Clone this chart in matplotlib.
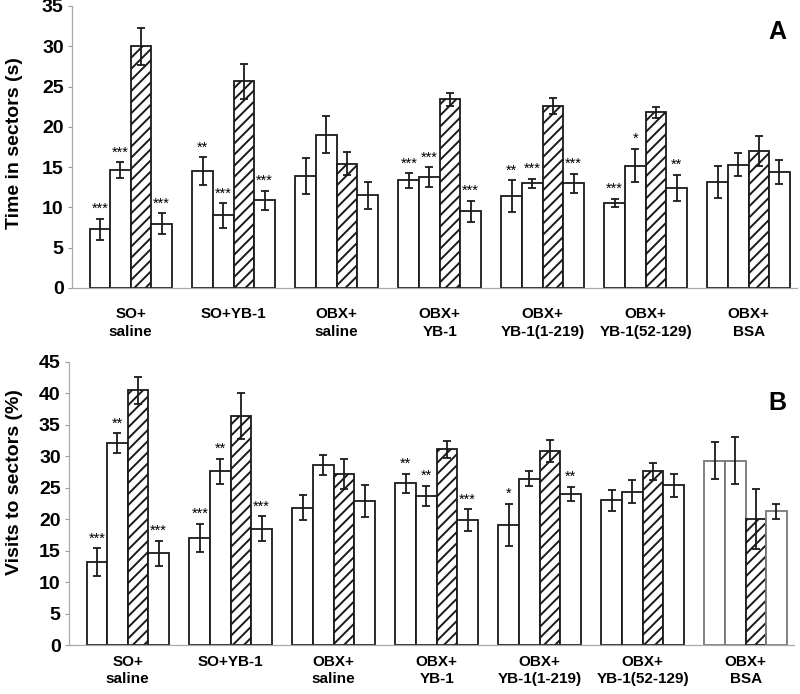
import matplotlib
matplotlib.use("Agg")
import matplotlib.pyplot as plt
import matplotlib.transforms as mtransforms
import numpy as np

plt.rcParams['font.family'] = ['Liberation Sans', 'DejaVu Sans']
plt.rcParams['hatch.linewidth'] = 1.4

groups = ["SO+\nsaline", "SO+YB-1", "OBX+\nsaline", "OBX+\nYB-1",
          "OBX+\nYB-1(1-219)", "OBX+\nYB-1(52-129)", "OBX+\nBSA"]

# Panel A: time in sectors (s), 4 sectors per group (3rd = hatched)
time_s1 = [7.3, 14.5, 13.9, 13.35, 11.4, 10.6, 13.2]
time_s2 = [14.6, 9.0, 19.0, 13.75, 13.0, 15.2, 15.3]
time_s3 = [30.0, 25.65, 15.45, 23.4, 22.6, 21.8, 17.05]
time_s4 = [8.0, 10.9, 11.5, 9.55, 13.0, 12.4, 14.4]
time_e1 = [1.3, 1.7, 2.2, 0.9, 1.95, 0.5, 2.0]
time_e2 = [1.0, 1.5, 2.3, 1.25, 0.55, 2.1, 1.45]
time_e3 = [2.3, 2.2, 1.45, 0.8, 1.0, 0.7, 1.85]
time_e4 = [1.3, 1.2, 1.7, 1.3, 1.15, 1.65, 1.5]
time_sig = [["***", "***", "", "***"],
            ["**", "***", "", "***"],
            ["", "", "", ""],
            ["***", "***", "", "***"],
            ["**", "***", "", "***"],
            ["***", "*", "", "**"],
            ["", "", "", ""]]

# Panel B: visits to sectors (%)
vis_s1 = [13.2, 17.05, 21.8, 25.7, 19.1, 23.0, 29.3]
vis_s2 = [32.1, 27.6, 28.6, 23.7, 26.45, 24.4, 29.3]
vis_s3 = [40.5, 36.4, 27.25, 31.1, 30.8, 27.6, 20.0]
vis_s4 = [14.6, 18.5, 22.85, 19.8, 24.0, 25.4, 21.25]
vis_e1 = [2.2, 2.2, 2.0, 1.55, 3.35, 1.7, 2.9]
vis_e2 = [1.6, 2.0, 1.6, 1.6, 1.15, 1.85, 3.7]
vis_e3 = [2.1, 3.7, 2.4, 1.3, 1.75, 1.4, 4.8]
vis_e4 = [2.0, 1.95, 2.55, 1.75, 1.15, 1.85, 1.25]
vis_sig = [["***", "**", "", "***"],
           ["***", "**", "", "***"],
           ["", "", "", ""],
           ["**", "**", "", "***"],
           ["*", "", "", "**"],
           ["", "", "", ""],
           ["", "", "", ""]]

fig = plt.figure(figsize=(8, 6.94), dpi=100)
W, H = 800, 694


def panel(rect, series, errs, sig, ymax, ystep, ylabel, ylabel_y, letter, letter_y,
          label_pad, light_last=False):
    ax = fig.add_axes(rect)
    x = np.arange(len(groups))
    bw = 0.2
    for k in range(4):
        xs = x + (k - 1.5) * bw
        ecs = ['#1a1a1a'] * len(groups)
        if light_last:
            ecs[-1] = '#777777' if k != 2 else '#1a1a1a'
        ax.bar(xs, series[k], width=bw, facecolor='white', edgecolor=ecs,
               linewidth=1.3, hatch='///' if k == 2 else None, zorder=2)
        ax.errorbar(xs, series[k], yerr=errs[k], fmt='none', ecolor='#1a1a1a',
                    elinewidth=1.3, capsize=3, capthick=1.3, zorder=3)
        for i in range(len(groups)):
            s = sig[i][k]
            if s:
                ax.annotate(s, (xs[i], series[k][i] + errs[k][i]),
                            xytext=(0, 7), textcoords='offset points',
                            ha='center', va='center', fontsize=10.5)
    ax.set_xlim(-0.57, 6.47)
    ax.set_ylim(0, ymax)
    ticks = np.arange(0, ymax + 0.1, ystep)
    ax.set_yticks(ticks)
    ax.set_yticklabels([f"{int(v)}" for v in ticks], fontsize=14, fontweight='bold')
    off = mtransforms.ScaledTranslation(0, -3 / 100, fig.dpi_scale_trans)
    for lab in ax.get_yticklabels():
        lab.set_transform(lab.get_transform() + off)
    ax.set_xticks(x)
    ax.set_xticklabels(groups, fontsize=11, fontweight='bold', linespacing=1.3)
    ax.tick_params(axis='x', length=0, pad=label_pad)
    ax.tick_params(axis='y', length=3, width=0.8, color='#999999', pad=3)
    for sp in ['top', 'right']:
        ax.spines[sp].set_visible(False)
    for sp in ['left', 'bottom']:
        ax.spines[sp].set_color('#aaaaaa')
        ax.spines[sp].set_linewidth(0.9)
    fig.text(15 / W, 1 - ylabel_y / H, ylabel, rotation=90, ha='center', va='center',
             fontsize=14, fontweight='bold')
    fig.text(777 / W, 1 - letter_y / H, letter, ha='center', va='center',
             fontsize=18, fontweight='bold')
    return ax


panel([72 / W, 1 - 288 / H, 725 / W, 282 / H],
      [time_s1, time_s2, time_s3, time_s4],
      [time_e1, time_e2, time_e3, time_e4],
      time_sig, 35, 5, "Time in sectors (s)", 143, "A", 32, 14)

panel([69 / W, 1 - 645 / H, 725 / W, 283 / H],
      [vis_s1, vis_s2, vis_s3, vis_s4],
      [vis_e1, vis_e2, vis_e3, vis_e4],
      vis_sig, 45, 5, "Visits to sectors (%)", 482, "B", 403, 7, light_last=True)

fig.savefig("out.png", dpi=100)
